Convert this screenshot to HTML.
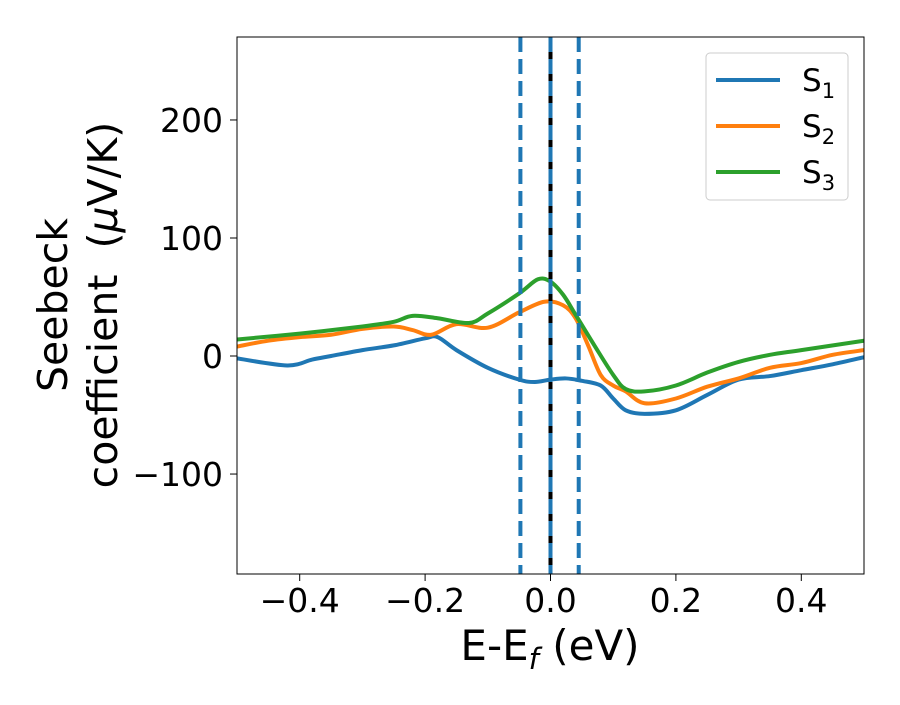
<!DOCTYPE html>
<html><head><meta charset="utf-8"><style>
body{margin:0;background:#fff;}
svg text{font-family:"DejaVu Sans","Liberation Sans",sans-serif;fill:#000;}
</style></head><body>
<svg id="chart" width="900" height="700" viewBox="0 0 900 700">
<rect x="0" y="0" width="900" height="700" fill="#fff"/>
<g id="plot"></g>
<g id="axes"></g>
<text x="550" y="660" font-size="42" text-anchor="middle">E-E<tspan font-size="29" dy="9" font-style="italic">f</tspan><tspan dy="-9"> (eV)</tspan></text>
<g transform="translate(67,305) rotate(-90)">
<text x="0" y="0" font-size="41" text-anchor="middle">Seebeck</text>
<text x="0" y="50" font-size="41" text-anchor="middle" xml:space="preserve">coefficient  (<tspan font-style="italic">μ</tspan>V/K)</text>
</g>
<g>
<rect x="706" y="53" width="142" height="147" rx="4" fill="#fff" stroke="#ccc" stroke-width="1"/>
<g><line x1="716" y1="80" x2="780" y2="80" stroke="#1f77b4" stroke-width="4"/><text x="802" y="91" font-size="31">S<tspan font-size="21" dy="7">1</tspan></text></g>
<g><line x1="716" y1="126" x2="780" y2="126" stroke="#ff7f0e" stroke-width="4"/><text x="802" y="137" font-size="31">S<tspan font-size="21" dy="7">2</tspan></text></g>
<g><line x1="716" y1="172" x2="780" y2="172" stroke="#2ca02c" stroke-width="4"/><text x="802" y="183" font-size="31">S<tspan font-size="21" dy="7">3</tspan></text></g>
</g>
</svg>
<script>
const xTicks=[-0.4,-0.2,0.0,0.2,0.4];
const xTickLabels=["−0.4","−0.2","0.0","0.2","0.4"];
const yTicks=[-100,0,100,200];
const yTickLabels=["−100","0","100","200"];
const s1X=[-0.5,-0.42,-0.38,-0.35,-0.3,-0.25,-0.2,-0.18,-0.15,-0.1,-0.05,-0.025,0,0.025,0.05,0.08,0.1,0.12,0.15,0.2,0.25,0.3,0.35,0.4,0.45,0.5];
const s1Y=[-2,-8,-3,0,5,9,15,16,5,-10,-20,-22,-20,-19,-21,-25,-36,-46,-49,-46,-33,-20,-17,-12,-7,-1];
const s2X=[-0.5,-0.45,-0.4,-0.35,-0.3,-0.25,-0.22,-0.19,-0.15,-0.1,-0.05,-0.01,0.02,0.04,0.06,0.08,0.1,0.12,0.15,0.2,0.25,0.3,0.35,0.4,0.45,0.5];
const s2Y=[8,13,16,18,23,25,22,18,27,24,37,46,43,32,9,-16,-25,-30,-40,-36,-26,-19,-10,-6,1,5];
const s3X=[-0.5,-0.4,-0.3,-0.25,-0.22,-0.18,-0.13,-0.1,-0.05,-0.02,0,0.02,0.04,0.07,0.1,0.12,0.15,0.2,0.25,0.3,0.35,0.4,0.5];
const s3Y=[14,19,25,29,34,32,28,36,53,65,63,52,35,9,-16,-28,-30,-25,-14,-5,1,5,13];
const vDashed=[-0.048,0.0,0.045];
const vSolid=[0.0];
const L=237,R=864,T=37,B=574,xmin=-0.5,xmax=0.5,ymin=-184.7,ymax=270.3;
const xs=v=>L+(v-xmin)/(xmax-xmin)*(R-L);
const ys=v=>B-(v-ymin)/(ymax-ymin)*(B-T);
const NS="http://www.w3.org/2000/svg";
const plot=document.getElementById('plot'),axes=document.getElementById('axes');
function mk(tag,attrs,parent){const e=document.createElementNS(NS,tag);for(const k in attrs)e.setAttribute(k,attrs[k]);parent.appendChild(e);return e;}
const cp=mk('clipPath',{id:'clip'},plot);mk('rect',{x:L,y:T,width:R-L,height:B-T},cp);
function path(X,Y){const p=X.map((x,i)=>[xs(x),ys(Y[i])]);let d='M'+p[0][0]+','+p[0][1];
for(let i=0;i<p.length-1;i++){const p0=p[Math.max(0,i-1)],p1=p[i],p2=p[i+1],p3=p[Math.min(p.length-1,i+2)];
d+=' C'+(p1[0]+(p2[0]-p0[0])/6)+','+(p1[1]+(p2[1]-p0[1])/6)+' '+(p2[0]-(p3[0]-p1[0])/6)+','+(p2[1]-(p3[1]-p1[1])/6)+' '+p2[0]+','+p2[1];}return d;}
const series=[[s1X,s1Y,'#1f77b4','series-s1'],[s2X,s2Y,'#ff7f0e','series-s2'],[s3X,s3Y,'#2ca02c','series-s3']];
series.forEach(s=>{const e=mk('path',{d:path(s[0],s[1]),fill:'none',stroke:s[2],'stroke-width':4,'clip-path':'url(#clip)'},plot);

});
vSolid.forEach(v=>{const e=mk('line',{x1:xs(v),x2:xs(v),y1:T,y2:B,stroke:'#000','stroke-width':4},plot);

});
vDashed.forEach(v=>{const e=mk('line',{x1:xs(v),x2:xs(v),y1:T,y2:B,stroke:'#1f77b4','stroke-width':4,'stroke-dasharray':'15,7'},plot);

});
const fr=mk('rect',{x:L,y:T,width:R-L,height:B-T,fill:'none',stroke:'#000','stroke-width':1},axes);


xTicks.forEach((v,i)=>{mk('line',{x1:xs(v),x2:xs(v),y1:B,y2:B+7,stroke:'#000','stroke-width':1},axes);
const t=mk('text',{x:xs(v),y:B+38,'font-size':33,'text-anchor':'middle'},axes);t.textContent=xTickLabels[i];

});
yTicks.forEach((v,i)=>{mk('line',{x1:L-7,x2:L,y1:ys(v),y2:ys(v),stroke:'#000','stroke-width':1},axes);
const t=mk('text',{x:L-14,y:ys(v)+12,'font-size':33,'text-anchor':'end'},axes);t.textContent=yTickLabels[i];

});
</script>
</body></html>
